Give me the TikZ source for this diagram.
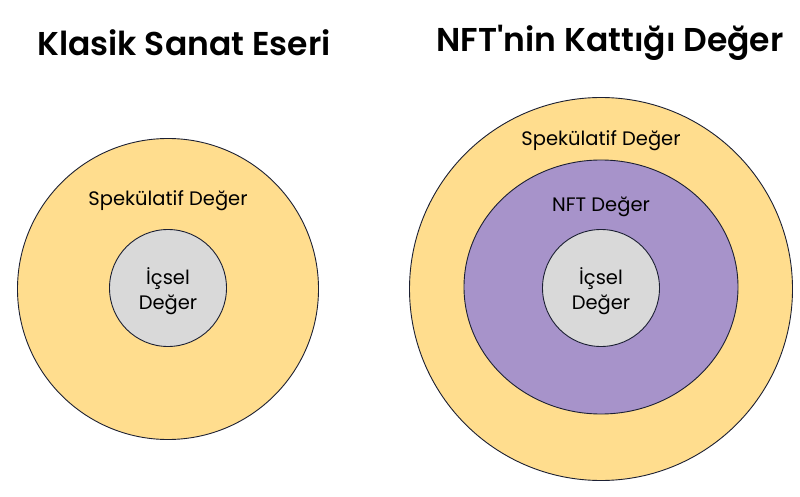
\documentclass[tikz,border=0pt]{standalone}
\usepackage{fontspec}
\setmainfont{Poppins}[BoldFont={Poppins SemiBold}]
\usetikzlibrary{shapes.geometric}
\definecolor{specyellow}{HTML}{FFDD8E}
\definecolor{nftpurple}{HTML}{A793CA}
\definecolor{coregrey}{HTML}{D9D9D9}
\definecolor{rimline}{HTML}{1C2033}
\begin{document}
\begin{tikzpicture}
        [x=1pt,y=-1pt,
         ring/.style={draw=rimline, line width=0.9pt, circle, inner sep=0pt},
         title/.style={font=\fontsize{33}{38}\selectfont\bfseries},
         label/.style={font=\fontsize{19.5}{25}\selectfont, align=center}]
      \useasboundingbox (0,0) rectangle (800,497);

      \node[title] (t1) at (184,43) {Klasik Sanat Eseri};
      \node[title] (t2) at (610,43) {NFT\textquotesingle nin Kattığı Değer};

      % classic artwork
      \node[ring, fill=specyellow, minimum size=301pt] (s1) at (168,289) {};
      \node[ring, fill=coregrey, minimum size=117pt] (c1) at (168,288) {};
      \node[label] (ls1) at (168,201) {Spekülatif Değer};
      \node[label] (lc1) at (168,291) {İçsel\\Değer};

      % nft
      \node[ring, fill=specyellow, minimum size=383pt] (s2) at (601,289) {};
      \node[ring, ellipse, fill=nftpurple, minimum width=274pt, minimum height=254pt] (n2) at (601,287) {};
      \node[ring, fill=coregrey, minimum size=117pt] (c2) at (601,288) {};
      \node[label] (ls2) at (601,141) {Spekülatif Değer};
      \node[label] (ln2) at (601,207) {NFT Değer};
      \node[label] (lc2) at (601,291) {İçsel\\Değer};
    \end{tikzpicture}
\end{document}
